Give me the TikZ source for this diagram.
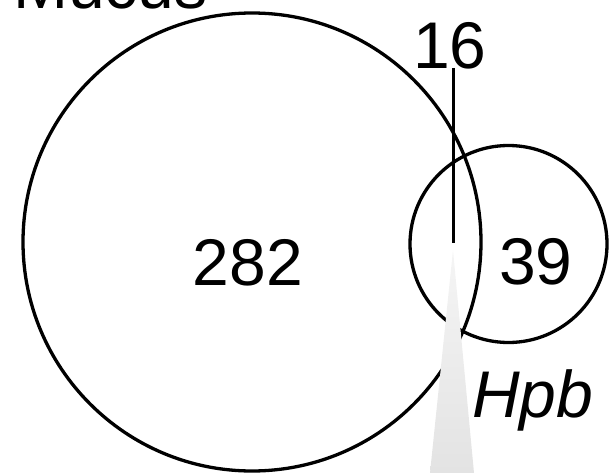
\documentclass[tikz,border=0pt]{standalone}
\usepackage{fontspec}
\setmainfont{Liberation Sans}
\begin{document}
\begin{tikzpicture}[x=1pt,y=-1pt,
  venn/.style={circle,draw=black,line width=3.3pt,inner sep=0pt},
  big/.style={font=\fontsize{66}{70}\selectfont,inner sep=0pt},
  wedgefill/.style={top color=gray!8,bottom color=gray!22,draw=none}]
\useasboundingbox (0,0) rectangle (610,473);
\node[venn,minimum size=458pt] (mucus) at (252,242) {};
\node[venn,minimum size=197pt] (hpb) at (508.5,244) {};
\shade[wedgefill] (453,250) -- (474,473) -- (430,473) -- cycle;
\node[big,anchor=base west] (mlabel) at (13,9) {Mucus};
\node[big,anchor=base] (n282) at (248,285) {282};
\node[big,anchor=base] (n39) at (536,284) {39};
\node[big,anchor=base] (n16) at (450,69) {16};
\node[big,anchor=base west] (hlabel) at (472,417) {\itshape Hpb};
\coordinate (lineend) at (453,243);
\draw[line width=3pt] (n16.south -| lineend) ++(0,-2) -- (lineend);
\end{tikzpicture}
\end{document}
